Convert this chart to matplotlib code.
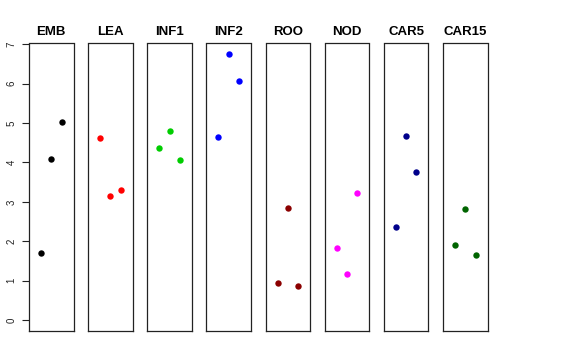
import matplotlib
matplotlib.use("Agg")
import matplotlib.pyplot as plt

plt.rcParams['font.family'] = ['Liberation Sans', 'DejaVu Sans']

tissues = ["EMB", "LEA", "INF1", "INF2", "ROO", "NOD", "CAR5", "CAR15"]
colors = ["black", "red", "#00CD00", "blue", "#8B0000", "magenta", "#00008B", "#006400"]
rep_x = [1, 2, 3]
values = {
    "EMB":   [1.71, 4.08, 5.02],
    "LEA":   [4.62, 3.15, 3.31],
    "INF1":  [4.36, 4.80, 4.07],
    "INF2":  [4.64, 6.75, 6.06],
    "ROO":   [0.95, 2.84, 0.87],
    "NOD":   [1.84, 1.16, 3.23],
    "CAR5":  [2.35, 4.67, 3.76],
    "CAR15": [1.91, 2.81, 1.64],
}
yticks = [0, 1, 2, 3, 4, 5, 6, 7]

W, H = 576, 360
fig = plt.figure(figsize=(W / 100, H / 100), dpi=100)

left0 = 29.0
step = 59.15
pw = 44.5
top = 43.5
bottom = 331.0

for i, (name, col) in enumerate(zip(tissues, colors)):
    x0 = left0 + i * step
    ax = fig.add_axes([x0 / W, (H - bottom) / H, pw / W, (bottom - top) / H])
    ax.plot(rep_x, values[name], 'o', color=col, markersize=4.6, markeredgewidth=0)
    ax.set_xlim(-0.15, 4.15)
    ax.set_ylim(-0.28, 7.02)
    ax.set_xticks([])
    for s in ax.spines.values():
        s.set_linewidth(0.9)
        s.set_color('#222222')
    ax.set_title(name, fontsize=9.5, fontweight='bold', pad=6)
    if i == 0:
        ax.set_yticks(yticks)
        ax.set_yticklabels([str(t) for t in yticks], rotation=90, va='center', fontsize=7)
        ax.tick_params(axis='y', length=5, width=0.8, pad=4, colors='#222222')
    else:
        ax.set_yticks([])

fig.savefig("out.png", dpi=100)
